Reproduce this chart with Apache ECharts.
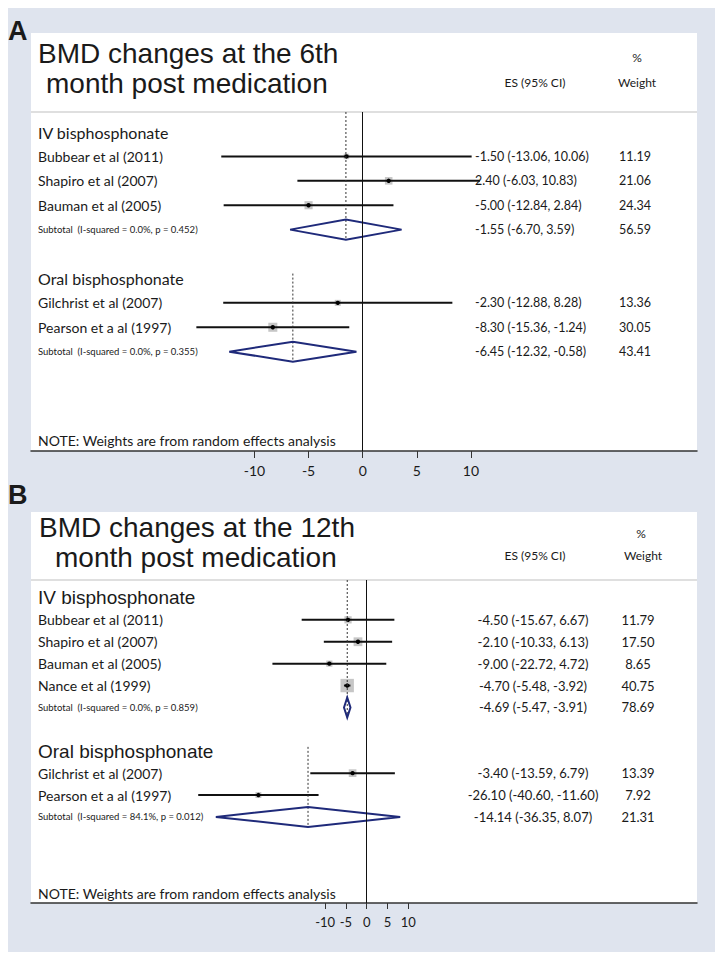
<!DOCTYPE html>
<html><head><meta charset="utf-8">
<script src="https://cdn.jsdelivr.net/npm/echarts@6/dist/echarts.min.js"></script>
<style>html,body{margin:0;padding:0;background:#fff}#c{width:723px;height:960px}</style>
</head><body><div id="c"></div>
<script>
// ---------- Data ----------
const panelLetters = ['A', 'B'];
const titleA = ['BMD changes at the 6th', 'month post medication'];
const titleB = ['BMD changes at the 12th', 'month post medication'];
const headerES = 'ES (95% CI)';
const headerPct = '%';
const headerWeight = 'Weight';
const noteText = 'NOTE: Weights are from random effects analysis';
const tickValues = [-10, -5, 0, 5, 10];

const rowsA = ['IV bisphosphonate', 'Bubbear et al (2011)', 'Shapiro et al (2007)', 'Bauman et al (2005)',
  'Subtotal  (I-squared = 0.0%, p = 0.452)', '', 'Oral bisphosphonate', 'Gilchrist et al (2007)',
  'Pearson et a al (1997)', 'Subtotal  (I-squared = 0.0%, p = 0.355)'];
const kindA = ['group', 'study', 'study', 'study', 'subtotal', 'blank', 'group', 'study', 'study', 'subtotal'];
const esA = [null, -1.50, 2.40, -5.00, -1.55, null, null, -2.30, -8.30, -6.45];
const loA = [null, -13.06, -6.03, -12.84, -6.70, null, null, -12.88, -15.36, -12.32];
const hiA = [null, 10.06, 10.83, 2.84, 3.59, null, null, 8.28, -1.24, -0.58];
const wA = [null, 11.19, 21.06, 24.34, 56.59, null, null, 13.36, 30.05, 43.41];

const rowsB = ['IV bisphosphonate', 'Bubbear et al (2011)', 'Shapiro et al (2007)', 'Bauman et al (2005)',
  'Nance et al (1999)', 'Subtotal  (I-squared = 0.0%, p = 0.859)', '', 'Oral bisphosphonate',
  'Gilchrist et al (2007)', 'Pearson et a al (1997)', 'Subtotal  (I-squared = 84.1%, p = 0.012)'];
const kindB = ['group', 'study', 'study', 'study', 'study', 'subtotal', 'blank', 'group', 'study', 'study', 'subtotal'];
const esB = [null, -4.50, -2.10, -9.00, -4.70, -4.69, null, null, -3.40, -26.10, -14.14];
const loB = [null, -15.67, -10.33, -22.72, -5.48, -5.47, null, null, -13.59, -40.60, -36.35];
const hiB = [null, 6.67, 6.13, 4.72, -3.92, -3.91, null, null, 6.79, -11.60, 8.07];
const wB = [null, 11.79, 17.50, 8.65, 40.75, 78.69, null, null, 13.39, 7.92, 21.31];

// ---------- Rendering ----------
const TXT = '#1a1a1a';
const CAL = 'Lato';
const ARIAL = '"Liberation Sans", Arial';

function forest(rows, kind, es, lo, hi, w, st) {
  return function (params, api) {
    const i = api.value(0);
    const k = kind[i];
    const cy = api.coord([0, i])[1];
    const cs = params.coordSys;
    const out = [];
    const txt = (x, text, font, align) => ({
      type: 'text', z2: 5,
      style: { x: x, y: cy, text: text, font: font, fill: TXT, align: align, verticalAlign: 'middle' }
    });
    if (k === 'group') out.push(txt(st.labelX, rows[i], st.groupFont, 'left'));
    if (k === 'study' || k === 'subtotal') {
      const xl = api.coord([lo[i], i])[0], xr = api.coord([hi[i], i])[0], xc = api.coord([es[i], i])[0];
      out.push(txt(st.labelX, rows[i], k === 'study' ? st.labelFont : st.subFont, 'left'));
      const esStr = es[i].toFixed(2) + ' (' + lo[i].toFixed(2) + ', ' + hi[i].toFixed(2) + ')';
      out.push(txt(st.esX, esStr, st.valFont, st.esAlign));
      out.push(txt(st.wX, w[i].toFixed(2), st.valFont, 'center'));
      if (k === 'study') {
        const s = st.boxK * Math.sqrt(w[i]);
        out.push({ type: 'rect', shape: { x: xc - s / 2, y: cy - s / 2, width: s, height: s }, style: { fill: '#c6c6c6' } });
        out.push({ type: 'line', shape: { x1: xl, y1: cy, x2: xr, y2: cy }, style: { stroke: '#111', lineWidth: 2 } });
        out.push({ type: 'circle', shape: { cx: xc, cy: cy, r: 2.2 }, style: { fill: '#000' } });
      } else {
        let g = i; while (g > 0 && kind[g] !== 'group') g--;
        const yTop = g === 0 ? cs.y : api.coord([0, g - 0.2])[1];
        out.push({ type: 'line', shape: { x1: xc, y1: yTop, x2: xc, y2: cy + st.dh }, style: { stroke: '#333', lineWidth: 1, lineDash: [2, 2] } });
        out.push({ type: 'polygon', shape: { points: [[xl, cy], [xc, cy - st.dh], [xr, cy], [xc, cy + st.dh]] }, style: { fill: 'none', stroke: '#1f2a7a', lineWidth: 2 } });
      }
    }
    return { type: 'group', children: out };
  };
}

const styleA = { labelX: 38, esX: 475, esAlign: 'left', wX: 635, boxK: 1.65, dh: 10,
  groupFont: '16px ' + CAL, labelFont: '14px ' + CAL, subFont: '9.5px ' + CAL, valFont: '12.5px ' + CAL };
const styleB = { labelX: 38, esX: 533, esAlign: 'center', wX: 638, boxK: 2.1, dh: 10,
  groupFont: '19px ' + ARIAL, labelFont: '14px ' + CAL, subFont: '9.5px ' + CAL, valFont: '13px ' + CAL };

function xAxisCfg(gi, min, max, fs, tl) {
  return {
    gridIndex: gi, type: 'value', min: min, max: max,
    axisLine: { show: true, onZero: false, lineStyle: { color: '#333', width: 1.5 } },
    axisTick: { show: true, customValues: tickValues, length: tl, lineStyle: { color: '#333', width: 1 } },
    axisLabel: { customValues: tickValues, fontSize: fs, fontFamily: CAL, color: TXT, margin: 12 },
    splitLine: { show: false }
  };
}
function yAxisCfg(gi, min, max) {
  return { gridIndex: gi, type: 'value', inverse: true, min: min, max: max, show: false };
}
function zeroLine() {
  return { silent: true, symbol: 'none', label: { show: false }, animation: false,
    lineStyle: { color: '#111', width: 1, type: 'solid' }, data: [{ xAxis: 0 }] };
}

function textG(x, y, text, font, align) {
  return { type: 'text', z: 10, x: x, y: y,
    style: { text: text, font: font, fill: TXT, align: align || 'left', verticalAlign: 'middle' } };
}

const graphic = [
  { type: 'rect', z: -10, shape: { x: 8, y: 8, width: 707, height: 944 }, style: { fill: '#dfe4ee' } },
  { type: 'rect', z: -9, shape: { x: 31, y: 33, width: 666, height: 418 }, style: { fill: '#fff' } },
  { type: 'rect', z: -9, shape: { x: 31, y: 512, width: 666, height: 391 }, style: { fill: '#fff' } },
  { type: 'line', z: -8, shape: { x1: 31, y1: 112, x2: 697, y2: 112 }, style: { stroke: '#d4d4d4', lineWidth: 1.5 } },
  { type: 'line', z: -8, shape: { x1: 31, y1: 580, x2: 697, y2: 580 }, style: { stroke: '#d4d4d4', lineWidth: 1.5 } },
  textG(8, 31, panelLetters[0], 'bold 27px ' + ARIAL),
  textG(8, 495, panelLetters[1], 'bold 27px ' + ARIAL),
  textG(38, 53, titleA[0], '28px ' + ARIAL),
  textG(46, 83, titleA[1], '28px ' + ARIAL),
  textG(39, 527, titleB[0], '28px ' + ARIAL),
  textG(55, 557, titleB[1], '28px ' + ARIAL),
  textG(535, 82, headerES, '12px ' + CAL, 'center'),
  textG(637, 57, headerPct, '12px ' + CAL, 'center'),
  textG(637, 82, headerWeight, '12px ' + CAL, 'center'),
  textG(535, 555, headerES, '12px ' + CAL, 'center'),
  textG(641, 533, headerPct, '12px ' + CAL, 'center'),
  textG(643, 555, headerWeight, '12px ' + CAL, 'center'),
  textG(38, 440, noteText, '14px ' + CAL),
  textG(38, 893, noteText, '14px ' + CAL)
];

const chart = echarts.init(document.getElementById('c'), null, { renderer: 'svg' });
chart.setOption({
  animation: false,
  backgroundColor: '#fff',
  graphic: graphic,
  grid: [
    { left: 31, right: 26, top: 112, height: 339, containLabel: false },
    { left: 31, right: 26, top: 580, height: 323, containLabel: false }
  ],
  xAxis: [xAxisCfg(0, -30.63, 30.87, 14, 7), xAxisCfg(1, -80.9, 79.6, 13, 6)],
  yAxis: [yAxisCfg(0, -0.82, 13.07), yAxisCfg(1, -0.82, 13.93)],
  series: [
    { type: 'custom', xAxisIndex: 0, yAxisIndex: 0, clip: false,
      renderItem: forest(rowsA, kindA, esA, loA, hiA, wA, styleA),
      data: rowsA.map((_, i) => [i]), encode: { x: -1, y: 0 }, markLine: zeroLine() },
    { type: 'custom', xAxisIndex: 1, yAxisIndex: 1, clip: false,
      renderItem: forest(rowsB, kindB, esB, loB, hiB, wB, styleB),
      data: rowsB.map((_, i) => [i]), encode: { x: -1, y: 0 }, markLine: zeroLine() }
  ]
});
</script></body></html>
